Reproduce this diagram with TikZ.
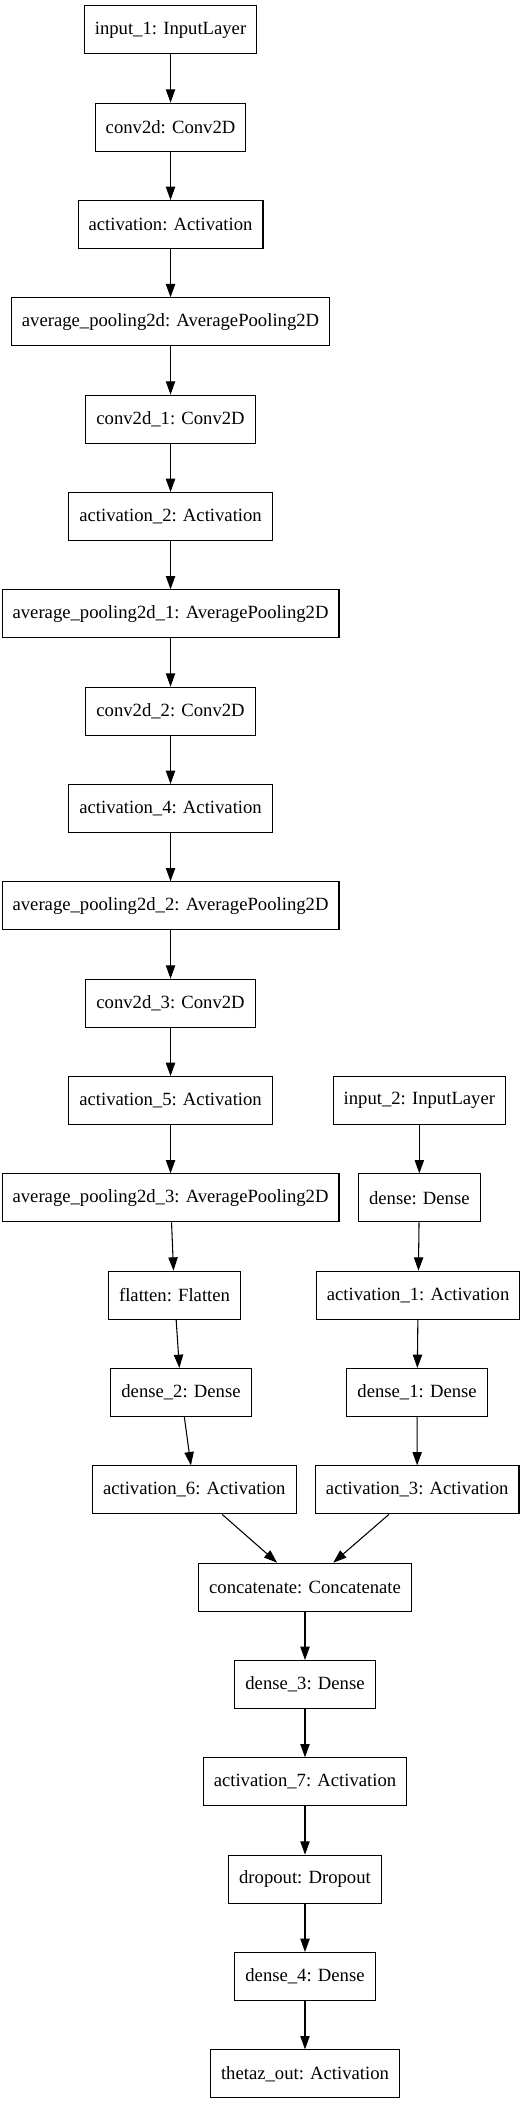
\documentclass[tikz,border=0pt]{standalone}
\usepackage{fontspec}
\setmainfont{Liberation Serif}
\usepackage{tikz}
\usetikzlibrary{arrows.meta}
\tikzset{
  layerbox/.style = {draw,line width=0.8pt,rectangle,minimum height=36pt,
                     inner xsep=7.9pt,inner ysep=0pt,
                     font=\fontsize{14pt}{16pt}\selectfont},
  edge/.style     = {-{Triangle[length=10pt,width=7pt]},line width=0.8pt}
}
\newcommand{\layer}[4]{%
  \node[layerbox] (#1) at (#2,#3) {#4};
}

\begin{document}
\begin{tikzpicture}[x=1pt,y=-73pt]
  \useasboundingbox (0pt,22.4pt) rectangle (392.25pt,-1555.6pt);
  % main branch
  \layer{in1}{127.9}{0}{input\_1: InputLayer}
  \layer{c0}{127.9}{1}{conv2d: Conv2D}
  \layer{a0}{127.9}{2}{activation: Activation}
  \layer{p0}{127.9}{3}{average\_pooling2d: AveragePooling2D}
  \layer{c1}{127.9}{4}{conv2d\_1: Conv2D}
  \layer{a2}{127.9}{5}{activation\_2: Activation}
  \layer{p1}{127.9}{6}{average\_pooling2d\_1: AveragePooling2D}
  \layer{c2}{127.9}{7}{conv2d\_2: Conv2D}
  \layer{a4}{127.9}{8}{activation\_4: Activation}
  \layer{p2}{127.9}{9}{average\_pooling2d\_2: AveragePooling2D}
  \layer{c3}{127.9}{10}{conv2d\_3: Conv2D}
  \layer{a5}{127.9}{11}{activation\_5: Activation}
  \layer{p3}{127.9}{12}{average\_pooling2d\_3: AveragePooling2D}
  \layer{flat}{130.9}{13}{flatten: Flatten}
  \layer{d2}{135.75}{14}{dense\_2: Dense}
  \layer{a6}{145.7}{15}{activation\_6: Activation}
  % second input
  \layer{in2}{314.5}{11}{input\_2: InputLayer}
  \layer{d0}{314.5}{12}{dense: Dense}
  \layer{a1}{313.6}{13}{activation\_1: Activation}
  \layer{d1}{312.8}{14}{dense\_1: Dense}
  \layer{a3}{312.9}{15}{activation\_3: Activation}
  % head
  \layer{cat}{228.75}{16}{concatenate: Concatenate}
  \layer{d3}{228.75}{17}{dense\_3: Dense}
  \layer{a7}{228.75}{18}{activation\_7: Activation}
  \layer{drop}{228.75}{19}{dropout: Dropout}
  \layer{d4}{228.75}{20}{dense\_4: Dense}
  \layer{out}{228.75}{21}{thetaz\_out: Activation}
  \foreach \a/\b in {in1/c0,c0/a0,a0/p0,p0/c1,c1/a2,a2/p1,p1/c2,c2/a4,a4/p2,
                     p2/c3,c3/a5,a5/p3,p3/flat,flat/d2,d2/a6,a6/cat,
                     in2/d0,d0/a1,a1/d1,d1/a3,a3/cat,
                     cat/d3,d3/a7,a7/drop,drop/d4,d4/out}
    \draw[edge] (\a) -- (\b);
\end{tikzpicture}
\end{document}
